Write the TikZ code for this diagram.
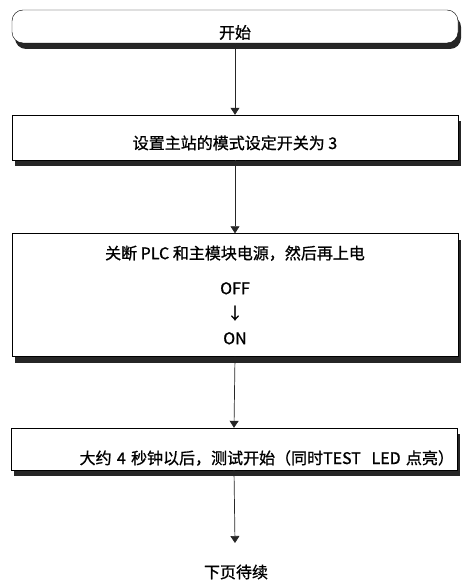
\documentclass[tikz,border=0pt]{standalone}
\usepackage{fontspec}
\newfontfamily\cjk[FakeBold=1]{Noto Sans CJK SC}
\usetikzlibrary{arrows.meta, positioning, shadows}

\tikzstyle{arrow} = [draw=black!85, line width=0.7pt, -{Triangle[width=9pt,length=7pt]}]

\begin{document}
\begin{tikzpicture}[x=1pt, y=-1pt,
    boxshadow/.style={drop shadow={shadow xshift=3pt, shadow yshift=-6pt,
                      fill=black!85, opacity=1}},
    term/.style={rectangle, rounded corners=11pt, draw, fill=white, boxshadow,
                 minimum width=446pt, minimum height=33pt, inner ysep=0pt,
                 font=\cjk\fontsize{16}{25}\selectfont},
    proc/.style={rectangle, draw, fill=white, boxshadow, minimum width=446pt,
                 font=\cjk\fontsize{16}{25}\selectfont}]

  \useasboundingbox (0,0) rectangle (461,580);

  \node[term, text height=26pt, text depth=2pt] (start) at (235,26.5) {开始};
  \node[proc, minimum height=45pt, inner ysep=0pt, text height=25pt, text depth=2pt]
       (mode) at (235,137.5) {设置主站的模式设定开关为 3};
  \node[proc, minimum height=123pt, align=center] (power) at (235,295)
       {关断 PLC 和主模块电源，然后再上电\\[10pt] OFF\\ ↓\\ ON};
  \node[proc, minimum height=42pt, inner ysep=0pt, inner xsep=3pt, text width=440pt,
        align=right, text height=32pt, text depth=2pt] (test) at (234,449)
       {大约 4 秒钟以后，测试开始（同时TEST\ \ LED 点亮）};
  \node[font=\cjk\fontsize{16}{20}\selectfont] (next) at (236,572) {下页待续};
  \coordinate (cont) at (235,543);

  \draw[arrow] (start.south) -- (mode.north);
  \draw[arrow] (mode.south) -- (power.north);
  \draw[arrow] (power.south) -- (test.north);
  \draw[arrow] (test.south) -- (cont);
\end{tikzpicture}
\end{document}
